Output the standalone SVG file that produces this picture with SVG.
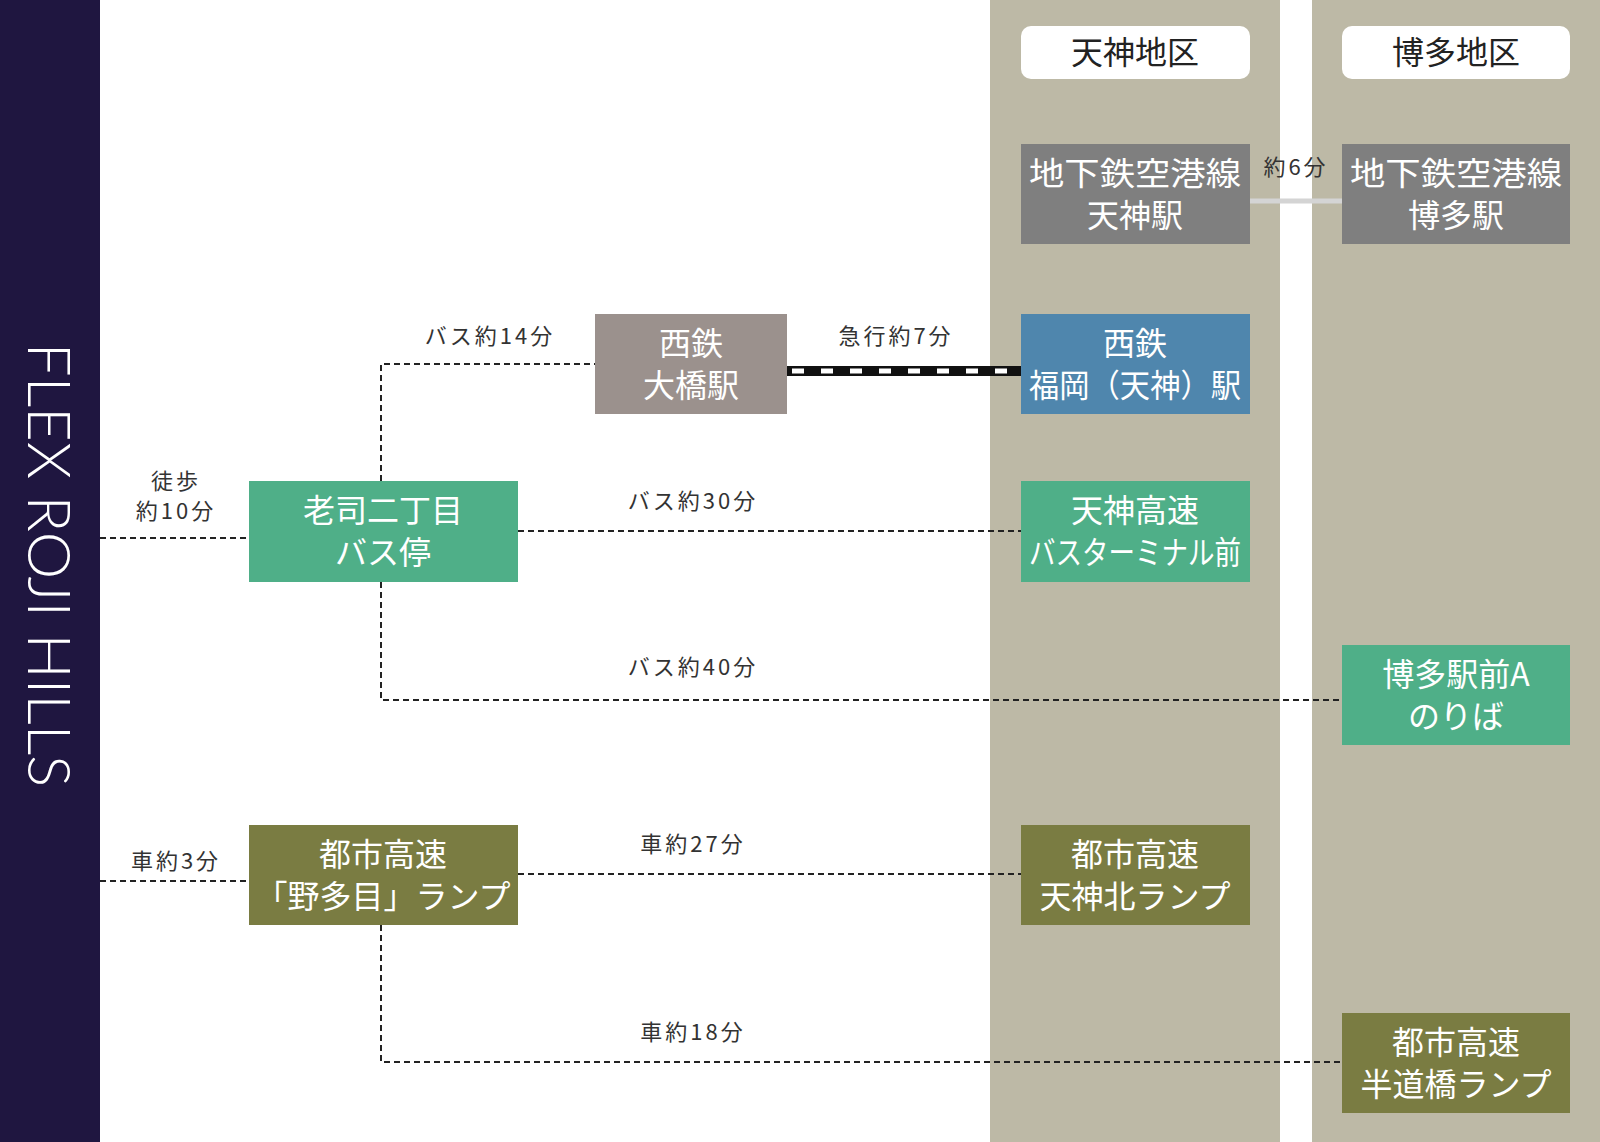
<svg xmlns="http://www.w3.org/2000/svg" width="1600" height="1142" viewBox="0 0 1600 1142">
<style>
.nt{font-family:"Noto Sans CJK JP","Noto Sans",sans-serif;font-size:32px;fill:#fff;text-anchor:middle}
.ht{font-family:"Noto Sans CJK JP","Noto Sans",sans-serif;font-size:32px;fill:#222;text-anchor:middle}
.lb{font-family:"Noto Sans CJK JP","Noto Sans",sans-serif;font-size:22px;fill:#333;text-anchor:middle;letter-spacing:3px}
.dl{fill:none;stroke:#222;stroke-width:2;stroke-dasharray:6 4}
</style>
<rect width="1600" height="1142" fill="#fff"/>
<rect x="0" y="0" width="100" height="1142" fill="#1f1640"/>
<text transform="translate(28,565) rotate(90)" font-family="Lato,sans-serif" font-weight="300" font-size="60" fill="#fff" text-anchor="middle">FLEX ROJI HILLS</text>
<rect x="990" y="0" width="290" height="1142" fill="#bdb9a6"/>
<rect x="1312" y="0" width="288" height="1142" fill="#bdb9a6"/>
<g id="connectors">
<path class="dl" d="M100 538H249"/>
<path class="dl" d="M381 481V364H595"/>
<path class="dl" d="M518 531H1021"/>
<path class="dl" d="M381 582V700H1342"/>
<path class="dl" d="M100 881H249"/>
<path class="dl" d="M518 874H1021"/>
<path class="dl" d="M381 925V1062H1342"/>
<path d="M1250 201H1342" stroke="#d4d4d4" stroke-width="5"/>
<rect x="787" y="366" width="234" height="10" fill="#111"/>
<path d="M792 371H1021" stroke="#fff" stroke-width="5" stroke-dasharray="12 17"/>
<text class="lb" x="1296" y="175">約6分</text>
<text class="lb" x="490" y="344">バス約14分</text>
<text class="lb" x="896" y="344">急行約7分</text>
<text class="lb" x="176" y="489">徒歩</text>
<text class="lb" x="176" y="519">約10分</text>
<text class="lb" x="693" y="509">バス約30分</text>
<text class="lb" x="693" y="675">バス約40分</text>
<text class="lb" x="176" y="869">車約3分</text>
<text class="lb" x="693" y="852">車約27分</text>
<text class="lb" x="693" y="1040">車約18分</text>
</g>
<g id="h-tenjin"><rect x="1021" y="26" width="229" height="53" rx="10" fill="#fff"/><text class="ht" x="1135" y="64">天神地区</text></g>
<g id="h-hakata"><rect x="1342" y="26" width="228" height="53" rx="10" fill="#fff"/><text class="ht" x="1456" y="64">博多地区</text></g>
<g id="n-subway-tenjin"><rect x="1021" y="144" width="229" height="100" fill="#7f7f7f"/><text class="nt" x="1135" y="185" textLength="212" lengthAdjust="spacingAndGlyphs">地下鉄空港線</text><text class="nt" x="1135" y="227">天神駅</text></g>
<g id="n-subway-hakata"><rect x="1342" y="144" width="228" height="100" fill="#7f7f7f"/><text class="nt" x="1456" y="185" textLength="212" lengthAdjust="spacingAndGlyphs">地下鉄空港線</text><text class="nt" x="1456" y="227">博多駅</text></g>
<g id="n-ohashi"><rect x="595" y="314" width="192" height="100" fill="#9b918d"/><text class="nt" x="691" y="355">西鉄</text><text class="nt" x="691" y="397">大橋駅</text></g>
<g id="n-fukuoka"><rect x="1021" y="314" width="229" height="100" fill="#4f86ad"/><text class="nt" x="1135" y="355">西鉄</text><text class="nt" x="1135" y="397" textLength="212" lengthAdjust="spacingAndGlyphs">福岡（天神）駅</text></g>
<g id="n-roji"><rect x="249" y="481" width="269" height="101" fill="#4faf88"/><text class="nt" x="383" y="522">老司二丁目</text><text class="nt" x="383" y="564">バス停</text></g>
<g id="n-tenjin-bt"><rect x="1021" y="481" width="229" height="101" fill="#4faf88"/><text class="nt" x="1135" y="522">天神高速</text><text class="nt" x="1135" y="564" textLength="212" lengthAdjust="spacingAndGlyphs">バスターミナル前</text></g>
<g id="n-hakata-a"><rect x="1342" y="645" width="228" height="100" fill="#4faf88"/><text class="nt" x="1456" y="686">博多駅前A</text><text class="nt" x="1456" y="728">のりば</text></g>
<g id="n-notame"><rect x="249" y="825" width="269" height="100" fill="#7a7c42"/><text class="nt" x="383" y="866">都市高速</text><text class="nt" x="383" y="908">「野多目」ランプ</text></g>
<g id="n-tenjin-kita"><rect x="1021" y="825" width="229" height="100" fill="#7a7c42"/><text class="nt" x="1135" y="866">都市高速</text><text class="nt" x="1135" y="908">天神北ランプ</text></g>
<g id="n-handobashi"><rect x="1342" y="1013" width="228" height="100" fill="#7a7c42"/><text class="nt" x="1456" y="1054">都市高速</text><text class="nt" x="1456" y="1096">半道橋ランプ</text></g>
</svg>
